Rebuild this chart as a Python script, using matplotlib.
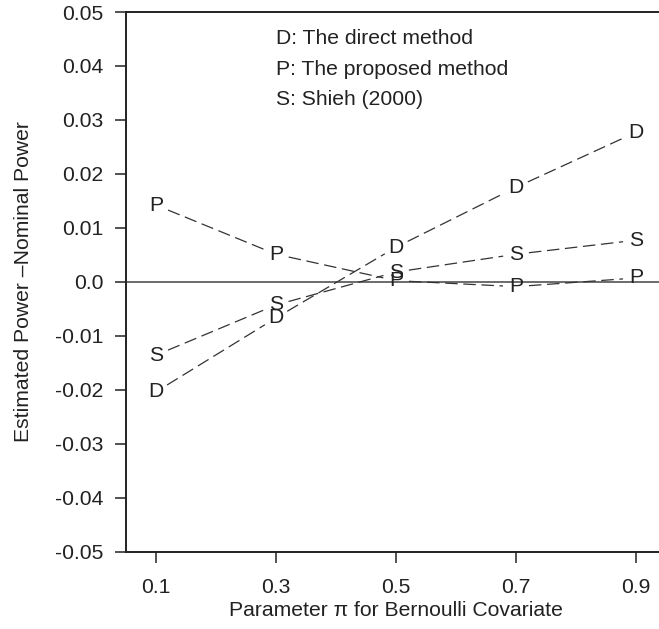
import numpy as np
import matplotlib
matplotlib.use('Agg')
import matplotlib.pyplot as plt

plt.rcParams['font.family'] = ['Liberation Sans', 'DejaVu Sans']

pi_values = [0.1, 0.3, 0.5, 0.7, 0.9]
diff_direct = [-0.0204, -0.0067, 0.0064, 0.0175, 0.0277]
diff_proposed = [0.0142, 0.0051, 0.0002, -0.0009, 0.0007]
diff_shieh = [-0.0136, -0.0043, 0.0018, 0.0051, 0.0077]

y_ticks = [0.05, 0.04, 0.03, 0.02, 0.01, 0.0, -0.01, -0.02, -0.03, -0.04, -0.05]
y_labels = ['0.05', '0.04', '0.03', '0.02', '0.01', '0.0',
            '-0.01', '-0.02', '-0.03', '-0.04', '-0.05']
x_labels = ['0.1', '0.3', '0.5', '0.7', '0.9']

legend_lines = ['D: The direct method', 'P: The proposed method', 'S: Shieh (2000)']

ink = '#222222'
fs = 15.2

fig = plt.figure(figsize=(6.59, 6.29), dpi=100)
ax = fig.add_axes([126 / 659, 77.5 / 629, 540 / 659, 539.5 / 629])
ax.set_xlim(0.05, 0.95)
ax.set_ylim(-0.05, 0.05)

for side in ['left', 'bottom', 'top', 'right']:
    ax.spines[side].set_color(ink)
    ax.spines[side].set_linewidth(1.4)

ax.set_xticks(pi_values)
ax.set_xticklabels(x_labels)
ax.set_yticks(y_ticks)
ax.set_yticklabels(y_labels)
ax.tick_params(axis='x', length=8, width=1.1, color=ink, labelsize=fs,
               labelcolor=ink, pad=11)
ax.tick_params(axis='y', length=8, width=1.1, color=ink, labelsize=fs,
               labelcolor=ink, pad=8)

ax.axhline(0, color='#444444', lw=1.1)


def courbe(xs, ys, lettre, gap=13):
    # R type="b": dashed segments that stop short of each letter
    pts = ax.transData.transform(np.column_stack([xs, ys]))
    inv = ax.transData.inverted()
    for a, b in zip(pts[:-1], pts[1:]):
        d = b - a
        n = np.hypot(*d)
        if n <= 2 * gap:
            continue
        u = d / n
        seg = inv.transform(np.array([a + u * gap, b - u * gap]))
        ax.plot(seg[:, 0], seg[:, 1], color='#333333', lw=0.9,
                dashes=(10, 4.5))
    for x, y in zip(xs, ys):
        ax.text(x, y, lettre, ha='center', va='center', fontsize=fs,
                color=ink)


courbe(pi_values, diff_direct, 'D')
courbe(pi_values, diff_proposed, 'P')
courbe(pi_values, diff_shieh, 'S')

for i, txt in enumerate(legend_lines):
    ax.text(0.30, 0.0451 - i * 0.0057, txt, ha='left', va='center',
            fontsize=fs, color=ink)

fig.text(24 / 659, 1 - 282 / 629, 'Estimated Power \u2013Nominal Power',
         rotation=90, ha='center', va='center', fontsize=fs, color=ink)
fig.text(396 / 659, 1 - 610 / 629, 'Parameter \u03c0 for Bernoulli Covariate',
         ha='center', va='center', fontsize=fs, color=ink)

fig.savefig('out.png', dpi=100)
